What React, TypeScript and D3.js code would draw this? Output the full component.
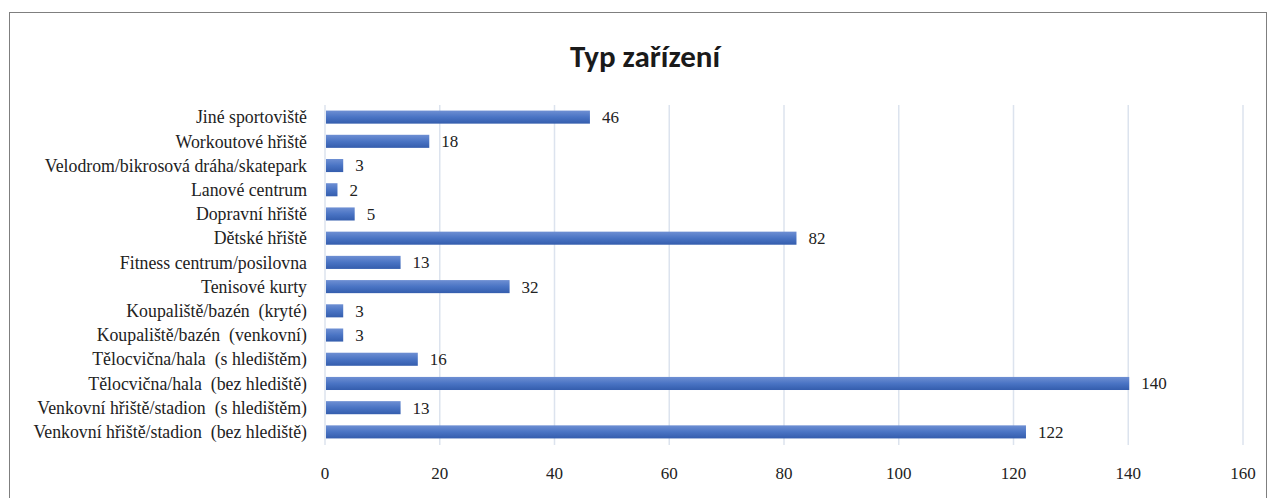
import React from "react";
import * as d3 from "d3";

const categories = [
  "Jiné sportoviště",
  "Workoutové hřiště",
  "Velodrom/bikrosová dráha/skatepark",
  "Lanové centrum",
  "Dopravní hřiště",
  "Dětské hřiště",
  "Fitness centrum/posilovna",
  "Tenisové kurty",
  "Koupaliště/bazén  (kryté)",
  "Koupaliště/bazén  (venkovní)",
  "Tělocvična/hala  (s hledištěm)",
  "Tělocvična/hala  (bez hlediště)",
  "Venkovní hřiště/stadion  (s hledištěm)",
  "Venkovní hřiště/stadion  (bez hlediště)",
];
const values = [46, 18, 3, 2, 5, 82, 13, 32, 3, 3, 16, 140, 13, 122];
const xTicks = [0, 20, 40, 60, 80, 100, 120, 140, 160];
const title = "Typ zařízení";

const W = 1271;
const H = 498;

export default function App() {
  const x = d3.scaleLinear().domain([0, 160]).range([326, 1244]);
  const y = d3.scaleBand<string>().domain(categories).range([105, 444]).paddingInner(0.46).paddingOuter(0.23);
  const serifStyle = { fontFamily: "Liberation Serif", whiteSpace: "pre" as const };
  return (
    <svg width={W} height={H} style={{ position: "absolute", left: 0, top: 0, background: "#fff" }}>
      <defs>
        <linearGradient id="barGrad" x1="0" y1="0" x2="0" y2="1">
          <stop offset="0%" stopColor="#6E8FD3" />
          <stop offset="50%" stopColor="#4A74C4" />
          <stop offset="100%" stopColor="#345DAD" />
        </linearGradient>
      </defs>
      <rect x={9.5} y={12.5} width={1257} height={500} fill="#fff" stroke="#7f7f7f" strokeWidth={1} />
      <text x={645} y={67} textAnchor="middle" fontWeight={700} fontSize={31} fill="#1a1a1a" style={{ fontFamily: "Carlito" }}>
        {title}
      </text>
      {xTicks.map((t) => (
        <g key={t}>
          <line x1={x(t) - 1} x2={x(t) - 1} y1={105} y2={445} stroke="#DCE3EE" strokeWidth={1.5} />
          <text x={x(t) - 1} y={479} textAnchor="middle" fontSize={17} fill="#222" style={serifStyle}>
            {t}
          </text>
        </g>
      ))}
      {categories.map((c, i) => {
        const yy = y(c)!;
        const bw = y.bandwidth();
        return (
          <g key={c}>
            <rect x={x(0)} y={yy} width={x(values[i]) - x(0)} height={bw} fill="url(#barGrad)" />
            <text x={x(values[i]) + 12} y={yy + bw / 2} dy="0.35em" fontSize={17} fill="#222" style={serifStyle}>
              {values[i]}
            </text>
            <text x={307} y={yy + bw / 2} dy="0.35em" textAnchor="end" fontSize={17.8} fill="#222" style={serifStyle}>
              {c}
            </text>
          </g>
        );
      })}
    </svg>
  );
}
